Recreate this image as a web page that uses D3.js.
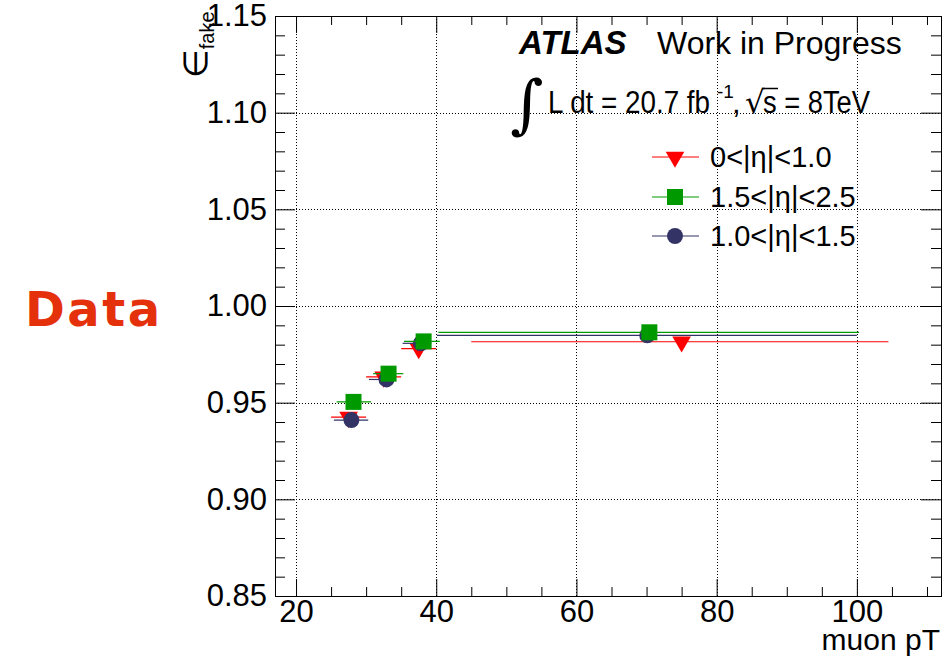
<!DOCTYPE html>
<html>
<head>
<meta charset="utf-8">
<script src="https://cdn.jsdelivr.net/npm/d3@7"></script>
<style>
  body { margin: 0; background: #fff; }
  text { font-family: "Liberation Sans", Arial, Helvetica, sans-serif; }
</style>
</head>
<body>
<svg id="chart" width="950" height="658"></svg>
<script>
// Fake-muon efficiency vs muon pT, three |eta| regions
const seriesNames = ["0<|η|<1.0", "1.5<|η|<2.5", "1.0<|η|<1.5"];
const seriesColors = ["#ff0000", "#009900", "#333366"];

// 0<|eta|<1.0
const ptCentral = [27.5, 32.5, 37.5, 75.0];
const ptLoCentral = [25.0, 30.0, 35.0, 45.0];
const ptHiCentral = [30.0, 35.0, 40.0, 104.5];
const effCentral = [0.9425, 0.9633, 0.9780, 0.9815];

// 1.5<|eta|<2.5
const ptForward = [28.2, 33.2, 38.2, 70.4];
const ptLoForward = [25.8, 31.0, 35.4, 40.3];
const ptHiForward = [30.7, 35.3, 40.5, 100.3];
const effForward = [0.9504, 0.9650, 0.9817, 0.9864];

// 1.0<|eta|<1.5
const ptCrack = [27.9, 32.9, 37.8, 70.1];
const ptLoCrack = [25.4, 30.4, 35.2, 40.1];
const ptHiCrack = [30.3, 34.0, 39.3, 100.0];
const effCrack = [0.9410, 0.9620, 0.9807, 0.9848];

const xTicks = [20, 40, 60, 80, 100];
const xMinorTicks = [25, 30, 35, 45, 50, 55, 65, 70, 75, 85, 90, 95, 105, 110];
const yTicks = [0.85, 0.90, 0.95, 1.00, 1.05, 1.10, 1.15];
const yMinorTicks = d3.range(0.86, 1.15, 0.01).filter(v => Math.abs(Math.round(v * 20) - v * 20) > 1e-6);

const svg = d3.select("#chart");
const frame = { left: 275, right: 941, top: 16, bottom: 596 };

const x = d3.scaleLinear().domain([17, 112]).range([frame.left, frame.right]);
const y = d3.scaleLinear().domain([0.85, 1.15]).range([frame.bottom, frame.top]);

const labelFont = 31;

// grid
const grid = svg.append("g").attr("stroke", "#000").attr("stroke-width", 1)
  .attr("stroke-dasharray", "1,2");
grid.selectAll("line.gx").data(xTicks).join("line").attr("class", "gx")
  .attr("x1", d => Math.round(x(d)) + 0.5).attr("x2", d => Math.round(x(d)) + 0.5)
  .attr("y1", frame.top).attr("y2", frame.bottom);
grid.selectAll("line.gy").data(yTicks.slice(1, -1)).join("line").attr("class", "gy")
  .attr("y1", d => Math.round(y(d)) + 0.5).attr("y2", d => Math.round(y(d)) + 0.5)
  .attr("x1", frame.left).attr("x2", frame.right);

// axes: major and minor ticks on all four sides, pointing into the frame
function styleAxis(g) {
  g.select(".domain").remove();
  g.selectAll(".tick line").attr("stroke", "#000").attr("stroke-width", 1);
  g.selectAll(".tick text").attr("fill", "#000")
    .style("font-family", '"Liberation Sans", Arial, sans-serif')
    .style("font-size", labelFont + "px");
}

svg.append("g").attr("transform", `translate(0,${frame.bottom})`)
  .call(d3.axisBottom(x).tickValues(xTicks).tickFormat(d3.format("d"))
    .tickSizeInner(-17).tickSizeOuter(0).tickPadding(4))
  .call(styleAxis)
  .call(g => g.selectAll(".tick text").attr("dy", "0.71em"));
svg.append("g").attr("transform", `translate(0,${frame.bottom})`)
  .call(d3.axisBottom(x).tickValues(xMinorTicks).tickFormat("").tickSizeInner(-9).tickSizeOuter(0))
  .call(styleAxis);
svg.append("g").attr("transform", `translate(0,${frame.top})`)
  .call(d3.axisTop(x).tickValues(xTicks).tickFormat("").tickSizeInner(-17).tickSizeOuter(0))
  .call(styleAxis);
svg.append("g").attr("transform", `translate(0,${frame.top})`)
  .call(d3.axisTop(x).tickValues(xMinorTicks).tickFormat("").tickSizeInner(-9).tickSizeOuter(0))
  .call(styleAxis);

svg.append("g").attr("transform", `translate(${frame.left},0)`)
  .call(d3.axisLeft(y).tickValues(yTicks).tickFormat(d3.format(".2f"))
    .tickSizeInner(-20).tickSizeOuter(0).tickPadding(8))
  .call(styleAxis);
svg.append("g").attr("transform", `translate(${frame.left},0)`)
  .call(d3.axisLeft(y).tickValues(yMinorTicks).tickFormat("").tickSizeInner(-10).tickSizeOuter(0))
  .call(styleAxis);
svg.append("g").attr("transform", `translate(${frame.right},0)`)
  .call(d3.axisRight(y).tickValues(yTicks).tickFormat("").tickSizeInner(-20).tickSizeOuter(0))
  .call(styleAxis);
svg.append("g").attr("transform", `translate(${frame.right},0)`)
  .call(d3.axisRight(y).tickValues(yMinorTicks).tickFormat("").tickSizeInner(-10).tickSizeOuter(0))
  .call(styleAxis);

// frame
svg.append("rect")
  .attr("x", frame.left + 0.5).attr("y", frame.top + 0.5)
  .attr("width", frame.right - frame.left).attr("height", frame.bottom - frame.top)
  .attr("fill", "none").attr("stroke", "#000").attr("stroke-width", 1);

// axis titles
svg.append("text").attr("x", 940).attr("y", 650).attr("text-anchor", "end")
  .style("font-size", "30px").text("muon pT");

const yTitle = svg.append("text")
  .attr("transform", "translate(207,78) rotate(-90)");
yTitle.append("tspan").style("font-size", "33px").style("font-family", '"DejaVu Sans", sans-serif').text("∈");
yTitle.append("tspan").attr("dy", 7).style("font-size", "20px").text("fake");

// marker symbols
const markerSymbols = [
  d3.symbol(d3.symbolTriangle, 150),
  d3.symbol(d3.symbolSquare, 256),
  d3.symbol(d3.symbolCircle, 200)
];
const markerRotate = [180, 0, 0];

function series(pt, lo, hi, eff) {
  return pt.map((p, i) => ({ pt: p, lo: lo[i], hi: hi[i], eff: eff[i] }));
}
const allSeries = [
  series(ptCentral, ptLoCentral, ptHiCentral, effCentral),
  series(ptForward, ptLoForward, ptHiForward, effForward),
  series(ptCrack, ptLoCrack, ptHiCrack, effCrack)
];

// drawing order: central, crack, forward
[0, 2, 1].forEach(k => {
  const g = svg.append("g");
  const col = seriesColors[k];
  g.selectAll("line").data(allSeries[k]).join("line")
    .attr("x1", d => x(d.lo)).attr("x2", d => x(d.hi))
    .attr("y1", d => y(d.eff)).attr("y2", d => y(d.eff))
    .attr("stroke", col).attr("stroke-width", 1.2);
  g.selectAll("path").data(allSeries[k]).join("path")
    .attr("d", markerSymbols[k])
    .attr("transform", d => `translate(${x(d.pt)},${y(d.eff)}) rotate(${markerRotate[k]})`)
    .attr("fill", col);
});

// legend
const legendRows = [157, 197, 236];
const legend = svg.append("g");
seriesNames.forEach((name, k) => {
  const ly = legendRows[k];
  legend.append("line").attr("x1", 652).attr("x2", 699).attr("y1", ly).attr("y2", ly)
    .attr("stroke", seriesColors[k]).attr("stroke-width", 1.2);
  legend.append("path").attr("d", markerSymbols[k])
    .attr("transform", `translate(675,${ly}) rotate(${markerRotate[k]})`)
    .attr("fill", seriesColors[k]);
  legend.append("text").attr("x", 710).attr("y", ly + 10)
    .style("font-size", "29px").text(name);
});

// experiment label
svg.append("text").attr("x", 519).attr("y", 54)
  .style("font-size", "33px").style("font-weight", "bold").style("font-style", "italic")
  .text("ATLAS");
svg.append("text").attr("x", 657).attr("y", 54)
  .style("font-size", "32px").text("Work in Progress");

// luminosity and energy
svg.append("text").attr("x", 510).attr("y", 126)
  .style("font-size", "64px").style("font-family", '"DejaVu Serif", serif').text("∫");
svg.append("text").attr("x", 548).attr("y", 113)
  .attr("textLength", 162).attr("lengthAdjust", "spacingAndGlyphs")
  .style("font-size", "31px").text("L dt = 20.7 fb");
svg.append("text").attr("x", 717).attr("y", 98)
  .style("font-size", "19px").text("-1");
svg.append("text").attr("x", 732).attr("y", 113)
  .style("font-size", "31px").text(",");
svg.append("text").attr("x", 745).attr("y", 113)
  .style("font-size", "31px").style("font-family", '"DejaVu Sans", sans-serif').text("√");
svg.append("line").attr("x1", 762).attr("x2", 778).attr("y1", 88.5).attr("y2", 88.5)
  .attr("stroke", "#000").attr("stroke-width", 1.5);
svg.append("text").attr("x", 763).attr("y", 113)
  .attr("textLength", 107).attr("lengthAdjust", "spacingAndGlyphs")
  .style("font-size", "31px").text("s = 8TeV");

// side label
svg.append("text").attr("x", 25).attr("y", 326)
  .style("font-family", '"DejaVu Sans", Verdana, sans-serif')
  .style("font-weight", "bold").style("font-size", "48px")
  .style("letter-spacing", "2.5px")
  .attr("fill", "#e5300c").text("Data");
</script>
</body>
</html>
